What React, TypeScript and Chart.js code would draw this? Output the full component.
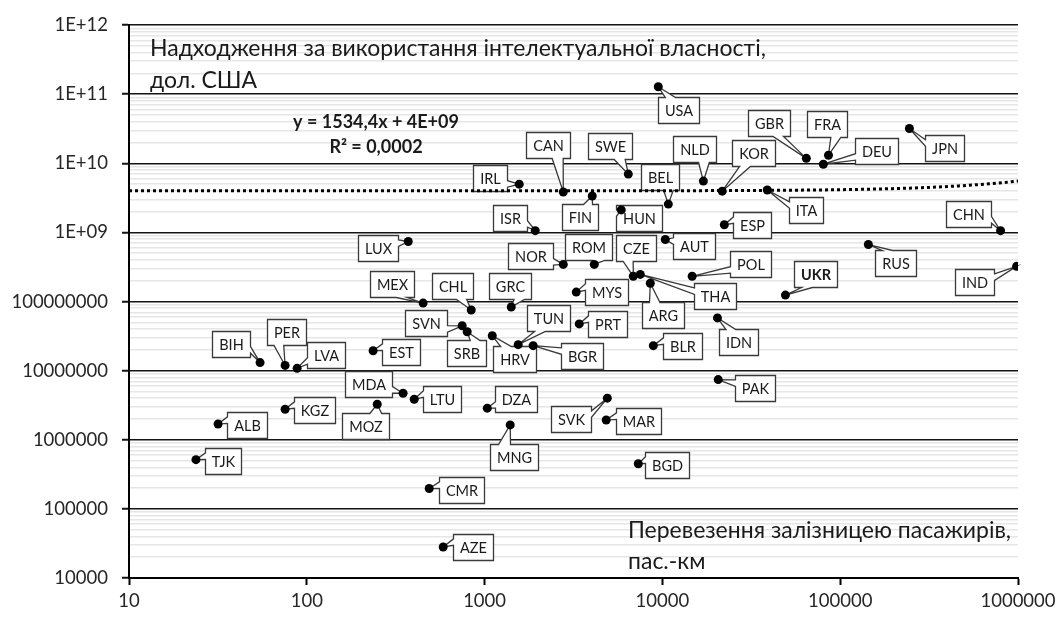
import React, { useEffect, useRef } from 'react';
import { Chart, registerables } from 'chart.js';

Chart.register(...registerables);

// ---------------- DATA ----------------
const countries = [
  'USA', 'GBR', 'FRA', 'DEU', 'JPN', 'CAN', 'SWE', 'NLD', 'KOR', 'IRL',
  'FIN', 'BEL', 'HUN', 'ITA', 'ISR', 'ESP', 'AUT', 'CHN', 'LUX', 'NOR',
  'ROM', 'CZE', 'THA', 'POL', 'RUS', 'IND', 'UKR', 'MEX', 'CHL', 'GRC',
  'MYS', 'ARG', 'SVN', 'SRB', 'TUN', 'PRT', 'HRV', 'BGR', 'IDN', 'BLR',
  'BIH', 'PER', 'LVA', 'EST', 'PAK', 'MDA', 'LTU', 'KGZ', 'MOZ', 'DZA',
  'SVK', 'MAR', 'ALB', 'MNG', 'TJK', 'BGD', 'CMR', 'AZE',
];

// Passenger rail transport, passenger-km (x)
const railPassengerKm = [
  9480, 64500, 85900, 80400, 245000, 2770, 6430, 17000, 21700, 1566,
  4030, 10800, 5870, 38900, 1927, 22300, 10380, 798000, 372, 2770,
  4140, 6860, 7510, 14700, 144000, 982000, 49200, 451, 841, 1412,
  3276, 8550, 748, 798, 1545, 3406, 1104, 1876, 20400, 8890,
  54.6, 75.5, 88.2, 236, 20600, 348, 402, 75.5, 249, 1035,
  4900, 4830, 31.7, 1393, 23.8, 7320, 488, 585,
];

// Charges for the use of intellectual property, USD (y)
const ipReceiptsUsd = [
  1.28e11, 1.18e10, 1.31e10, 9.7e9, 3.19e10, 3.85e9, 6.98e9, 5.53e9, 3.96e9, 5.0e9,
  3.37e9, 2.57e9, 2.12e9, 4.11e9, 1.06e9, 1.29e9, 7.9e8, 1.06e9, 7.38e8, 3.45e8,
  3.45e8, 2.32e8, 2.47e8, 2.32e8, 6.68e8, 3.23e8, 1.24e8, 9.5e7, 7.55e7, 8.34e7,
  1.37e8, 1.84e8, 4.46e7, 3.65e7, 2.38e7, 4.75e7, 3.2e7, 2.3e7, 5.8e7, 2.3e7,
  1.31e7, 1.19e7, 1.08e7, 1.94e7, 7.43e6, 4.71e6, 3.86e6, 2.77e6, 3.27e6, 2.87e6,
  4.0e6, 1.93e6, 1.69e6, 1.64e6, 5.15e5, 4.5e5, 1.97e5, 2.81e4,
];

const highlightedCountries = ['UKR'];

const xTickLabels = ['10', '100', '1000', '10000', '100000', '1000000'];
const yTickLabels = ['10000', '100000', '1000000', '10000000', '100000000', '1E+09', '1E+10', '1E+11', '1E+12'];

const trendSlope = 1534.4;
const trendIntercept = 4e9;
const trendEquationText = 'y = 1534,4x + 4E+09';
const trendR2Text = 'R² = 0,0002';

const yTitleLines = ['Надходження за використання інтелектуальної власності,', 'дол. США'];
const xTitleLines = ['Перевезення залізницею пасажирів,', 'пас.-км'];

// ---------------- LAYOUT (label callout offsets from point, px) ----------------
const labelOffsets: Record<string, [number, number]> = {
  USA: [20, 23], GBR: [-37, -35], FRA: [-1, -31], DEU: [53, -13], JPN: [35, 19],
  CAN: [-15, -47], SWE: [-18, -28], NLD: [-9, -32], KOR: [31, -38], IRL: [-29, -6],
  FIN: [-12, 21], BEL: [-8, -27], HUN: [18, 8], ITA: [39, 20], ISR: [-25, -13],
  ESP: [28, 0], AUT: [29, 6], CHN: [-32, -17], LUX: [-30, 6], NOR: [-33, -8],
  ROM: [-6, -17], CZE: [3, -28], THA: [75, 22], POL: [58, -12], RUS: [27, 18],
  IND: [-42, 16], UKR: [30, -21], MEX: [-31, -19], CHL: [-19, -24], GRC: [-1, -21],
  MYS: [30, 0], ARG: [13, 32], SVN: [-36, -3], SRB: [-1, 21], TUN: [30, -27],
  PRT: [28, 0], HRV: [22, 23], BGR: [49, 10], IDN: [21, 24], BLR: [29, 0],
  BIH: [-29, -19], PER: [1, -33], LVA: [29, -13], EST: [28, 1], PAK: [37, 8],
  MDA: [-35, -9], LTU: [28, 0], KGZ: [29, 1], MOZ: [-12, 22], DZA: [29, -9],
  SVK: [-36, 21], MAR: [32, 1], ALB: [29, 1], MNG: [4, 32], TJK: [27, 1],
  BGD: [29, 1], CMR: [32, 1], AZE: [30, 0],
};

const FONT = "Lato, 'Open Sans', 'Noto Sans', sans-serif";

const xTickValues = xTickLabels.map(Number);
const yMajorValues = yTickLabels.map(Number);
const yTickValues: number[] = [];
yMajorValues.forEach((v, i) => {
  yTickValues.push(v);
  if (i < yMajorValues.length - 1) for (let m = 2; m <= 9; m++) yTickValues.push(v * m);
});
const isMajorY = (v: number) => yMajorValues.some((m) => Math.abs(v - m) / m < 1e-9);

function trendPoints() {
  const pts: { x: number; y: number }[] = [];
  const lo = Math.log10(xTickValues[0]);
  const hi = Math.log10(xTickValues[xTickValues.length - 1]);
  for (let i = 0; i <= 120; i++) {
    const x = Math.pow(10, lo + ((hi - lo) * i) / 120);
    pts.push({ x, y: trendSlope * x + trendIntercept });
  }
  return pts;
}

function drawCallout(ctx: CanvasRenderingContext2D, l: number, t: number, w: number, h: number, tx: number, ty: number) {
  const r = l + w, b = t + h, cx = l + w / 2, cy = t + h / 2;
  const dxPos = tx - cx, dyPos = ty - cy;
  const horiz = Math.abs(dxPos) * h > Math.abs(dyPos) * w;
  const side = horiz ? (dxPos < 0 ? 'L' : 'R') : dyPos < 0 ? 'T' : 'B';
  const x1 = l + (w * (dxPos > 0 ? 7 : 2)) / 12, x2 = l + (w * (dxPos > 0 ? 10 : 5)) / 12;
  const y1 = t + (h * (dyPos > 0 ? 7 : 2)) / 12, y2 = t + (h * (dyPos > 0 ? 10 : 5)) / 12;
  ctx.beginPath();
  ctx.moveTo(l, t);
  if (side === 'T') { ctx.lineTo(x1, t); ctx.lineTo(tx, ty); ctx.lineTo(x2, t); }
  ctx.lineTo(r, t);
  if (side === 'R') { ctx.lineTo(r, y1); ctx.lineTo(tx, ty); ctx.lineTo(r, y2); }
  ctx.lineTo(r, b);
  if (side === 'B') { ctx.lineTo(x2, b); ctx.lineTo(tx, ty); ctx.lineTo(x1, b); }
  ctx.lineTo(l, b);
  if (side === 'L') { ctx.lineTo(l, y2); ctx.lineTo(tx, ty); ctx.lineTo(l, y1); }
  ctx.closePath();
  ctx.fillStyle = '#ffffff';
  ctx.fill();
  ctx.lineWidth = 1.3;
  ctx.strokeStyle = '#3a3a3a';
  ctx.lineJoin = 'miter';
  ctx.stroke();
}

const annotationPlugin = {
  id: 'annotations',
  beforeDatasetsDraw(chart: any) {
    const { ctx, scales } = chart;
    const xs = scales.x, ys = scales.y;
    ctx.save();
    countries.forEach((code, i) => {
      const px = xs.getPixelForValue(railPassengerKm[i]);
      const py = ys.getPixelForValue(ipReceiptsUsd[i]);
      const [dx, dy] = labelOffsets[code] || [28, 0];
      const bold = highlightedCountries.includes(code);
      ctx.font = `${bold ? 'bold ' : ''}14.5px ${FONT}`;
      const tw = ctx.measureText(code).width;
      const w = Math.round(tw + 13), h = 26;
      const cx = px + dx, cy = py + dy;
      const l = Math.round(cx - w / 2) + 0.5, t = Math.round(cy - h / 2) + 0.5;
      drawCallout(ctx, l, t, w, h, px, py);
      ctx.fillStyle = '#1a1a1a';
      ctx.textAlign = 'center';
      ctx.textBaseline = 'alphabetic';
      ctx.fillText(code, l + w / 2, t + h / 2 + 5);
    });
    ctx.restore();
  },
  afterDraw(chart: any) {
    const { ctx, chartArea } = chart;
    ctx.save();
    ctx.fillStyle = '#1a1a1a';
    ctx.textBaseline = 'alphabetic';
    // y title (top-left inside plot)
    ctx.textAlign = 'left';
    ctx.font = `23px ${FONT}`;
    yTitleLines.forEach((s, i) => ctx.fillText(s, chartArea.left + 21, chartArea.top + 31 + i * 31.6));
    // x title (bottom-right inside plot)
    xTitleLines.forEach((s, i) => ctx.fillText(s, chartArea.left + 499, chartArea.bottom - 40 + i * 31));
    // trend equation
    ctx.textAlign = 'center';
    ctx.font = `bold 18px ${FONT}`;
    ctx.fillText(trendEquationText, chartArea.left + 247, chartArea.top + 103);
    ctx.fillText(trendR2Text, chartArea.left + 247, chartArea.top + 128);
    ctx.restore();
  },
};

export default function App() {
  const ref = useRef<HTMLCanvasElement>(null);
  useEffect(() => {
    if (!ref.current) return;
    const scatterData = countries.map((_, i) => ({ x: railPassengerKm[i], y: ipReceiptsUsd[i] }));
    const chart = new Chart(ref.current, {
      type: 'scatter',
      data: {
        datasets: [
          {
            type: 'line',
            label: 'trend',
            data: trendPoints(),
            borderColor: '#000',
            borderWidth: 3,
            borderDash: [3, 3],
            pointRadius: 0,
            fill: false,
            tension: 0,
            order: 2,
          } as any,
          {
            type: 'scatter',
            label: 'countries',
            data: scatterData,
            backgroundColor: '#000',
            borderColor: '#000',
            borderWidth: 0,
            pointRadius: 4.5,
            pointHoverRadius: 4.5,
            order: 1,
          },
        ],
      },
      options: {
        responsive: false,
        animation: false,
        devicePixelRatio: 1,
        events: [],
        layout: { padding: { left: 0, right: 44, top: 21, bottom: 0 } },
        plugins: { legend: { display: false }, tooltip: { enabled: false }, title: { display: false } },
        scales: {
          x: {
            type: 'logarithmic',
            min: xTickValues[0],
            max: xTickValues[xTickValues.length - 1],
            afterBuildTicks: (s: any) => { s.ticks = xTickValues.map((v) => ({ value: v })); },
            afterFit: (s: any) => { s.height = 39; },
            grid: { drawOnChartArea: false, drawTicks: true, tickLength: 7, tickColor: '#000', tickWidth: 2 },
            border: { display: true, color: '#000', width: 2 },
            ticks: {
              autoSkip: false,
              maxRotation: 0,
              padding: 5,
              color: '#262626',
              font: { family: FONT, size: 18.5 },
              callback: (_v: any, i: number) => xTickLabels[i],
            },
          },
          y: {
            type: 'logarithmic',
            min: yMajorValues[0],
            max: yMajorValues[yMajorValues.length - 1],
            afterBuildTicks: (s: any) => { s.ticks = yTickValues.map((v) => ({ value: v })); },
            afterFit: (s: any) => { s.width = 129; },
            grid: {
              drawOnChartArea: true,
              drawTicks: true,
              tickLength: 7,
              color: (c: any) => (isMajorY(c.tick?.value) ? '#141414' : '#e6e6e6'),
              lineWidth: (c: any) => (isMajorY(c.tick?.value) ? 1.5 : 1.5),
              tickColor: (c: any) => (isMajorY(c.tick?.value) ? '#141414' : 'rgba(0,0,0,0)'),
              tickWidth: 2,
            },
            border: { display: true, color: '#000', width: 2 },
            ticks: {
              autoSkip: false,
              padding: 14,
              color: '#262626',
              font: { family: FONT, size: 18.5 },
              callback: (v: any) => {
                const val = Number(v);
                const idx = yMajorValues.findIndex((m) => Math.abs(val - m) / m < 1e-9);
                return idx >= 0 ? yTickLabels[idx] : '';
              },
            },
          },
        },
      },
      plugins: [annotationPlugin],
    } as any);
    return () => chart.destroy();
  }, []);
  return (
    <div style={{ position: 'fixed', left: 0, top: 0, width: 1062, height: 617, background: '#fff' }}>
      <canvas ref={ref} width={1062} height={617} style={{ display: 'block', width: 1062, height: 617 }} />
    </div>
  );
}
